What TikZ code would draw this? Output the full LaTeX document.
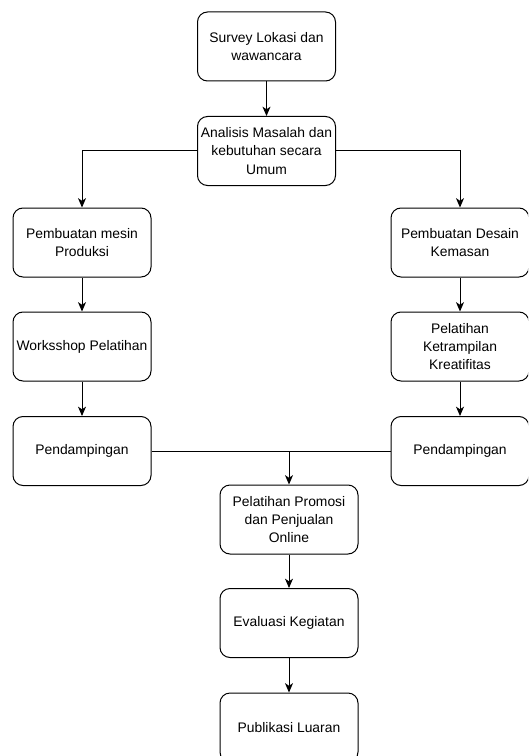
\documentclass[tikz,border=0pt]{standalone}
\usepackage{fontspec}
\setmainfont{Liberation Sans}
\usetikzlibrary{arrows.meta}
\begin{document}
\begin{tikzpicture}[x=0.75pt,y=-0.75pt,
  box/.style={draw=black, line width=0.75pt, rounded corners=7.5pt, fill=white,
    minimum width=103.5pt, minimum height=51.75pt, inner sep=0pt, align=center,
    font=\fontsize{10.4}{13.7}\selectfont},
  conn/.style={line width=0.75pt, draw=black},
  arr/.style={conn, -{Stealth[length=7pt,width=6pt,inset=2pt]}}]
\path[use as bounding box] (0,0) rectangle (528,756);
\clip (0,0) rectangle (528,756);
\node[box] (survey) at (266.5,46.5) {Survey Lokasi dan\\wawancara};
\node[box] (analisis) at (266.5,151) {Analisis Masalah dan\\kebutuhan secara\\Umum};
\node[box] (mesin) at (82,242.5) {Pembuatan mesin\\Produksi};
\node[box] (workshop) at (82,346.5) {Worksshop Pelatihan};
\node[box] (pendL) at (82,451) {Pendampingan};
\node[box] (desain) at (460,242.5) {Pembuatan Desain\\Kemasan};
\node[box] (ketr) at (460,346.5) {Pelatihan\\Ketrampilan\\Kreatifitas};
\node[box] (pendR) at (460,451) {Pendampingan};
\node[box] (promosi) at (289,519.5) {Pelatihan Promosi\\dan Penjualan\\Online};
\node[box] (evaluasi) at (289,623) {Evaluasi Kegiatan};
\node[box] (publikasi) at (289,727.5) {Publikasi Luaran};
\coordinate (join) at (pendL.east -| promosi.north);
\draw[arr] (survey) -- (analisis);
\draw[arr] (analisis.west) -| (mesin.north);
\draw[arr] (analisis.east) -| (desain.north);
\draw[arr] (mesin) -- (workshop);
\draw[arr] (workshop) -- (pendL);
\draw[arr] (desain) -- (ketr);
\draw[arr] (ketr) -- (pendR);
\draw[conn] (pendL.east) -- (pendR.west);
\draw[arr] (join) -- (promosi.north);
\draw[arr] (promosi) -- (evaluasi);
\draw[arr] (evaluasi) -- (publikasi);
\end{tikzpicture}
\end{document}
